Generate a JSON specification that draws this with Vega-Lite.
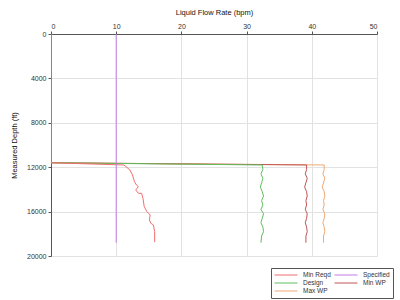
{
  "$schema": "https://vega.github.io/schema/vega-lite/v6.json",
  "autosize": "none",
  "width": 326,
  "height": 222,
  "padding": {"left": 51, "top": 34, "right": 23, "bottom": 44},
  "background": "white",
  "config": {
    "font": "Liberation Sans",
    "view": {"stroke": null},
    "axis": {
      "labelFontSize": 7,
      "labelColor": "#333",
      "titleFontSize": 7.5,
      "titleFontWeight": "normal",
      "titleColor": "#111",
      "gridColor": "#e2e2e2",
      "gridWidth": 1,
      "domainColor": "#555",
      "tickColor": "#555",
      "tickSize": 3
    }
  },
  "data": {
    "values": [
      {"series": "Max WP", "seq": 1, "rate": 0, "depth": 0},
      {"series": "Max WP", "seq": 2, "rate": 0, "depth": 11600},
      {"series": "Max WP", "seq": 3, "rate": 41.9, "depth": 11800},
      {"series": "Max WP", "seq": 4, "rate": 41.9, "depth": 12200},
      {"series": "Max WP", "seq": 5, "rate": 41.7, "depth": 12600},
      {"series": "Max WP", "seq": 6, "rate": 42.0, "depth": 13000},
      {"series": "Max WP", "seq": 7, "rate": 41.8, "depth": 13400},
      {"series": "Max WP", "seq": 8, "rate": 41.6, "depth": 13800},
      {"series": "Max WP", "seq": 9, "rate": 41.9, "depth": 14200},
      {"series": "Max WP", "seq": 10, "rate": 42.0, "depth": 14600},
      {"series": "Max WP", "seq": 11, "rate": 41.8, "depth": 15000},
      {"series": "Max WP", "seq": 12, "rate": 41.9, "depth": 15400},
      {"series": "Max WP", "seq": 13, "rate": 41.7, "depth": 15800},
      {"series": "Max WP", "seq": 14, "rate": 42.0, "depth": 16200},
      {"series": "Max WP", "seq": 15, "rate": 41.9, "depth": 16600},
      {"series": "Max WP", "seq": 16, "rate": 41.7, "depth": 17000},
      {"series": "Max WP", "seq": 17, "rate": 41.9, "depth": 17400},
      {"series": "Max WP", "seq": 18, "rate": 42.0, "depth": 17800},
      {"series": "Max WP", "seq": 19, "rate": 41.8, "depth": 18200},
      {"series": "Max WP", "seq": 20, "rate": 41.8, "depth": 18800},

      {"series": "Min WP", "seq": 1, "rate": 0, "depth": 11600},
      {"series": "Min WP", "seq": 2, "rate": 39.2, "depth": 11800},
      {"series": "Min WP", "seq": 3, "rate": 39.2, "depth": 12200},
      {"series": "Min WP", "seq": 4, "rate": 39.0, "depth": 12600},
      {"series": "Min WP", "seq": 5, "rate": 39.3, "depth": 13000},
      {"series": "Min WP", "seq": 6, "rate": 39.1, "depth": 13400},
      {"series": "Min WP", "seq": 7, "rate": 38.9, "depth": 13800},
      {"series": "Min WP", "seq": 8, "rate": 39.2, "depth": 14200},
      {"series": "Min WP", "seq": 9, "rate": 39.3, "depth": 14600},
      {"series": "Min WP", "seq": 10, "rate": 39.1, "depth": 15000},
      {"series": "Min WP", "seq": 11, "rate": 39.2, "depth": 15400},
      {"series": "Min WP", "seq": 12, "rate": 39.0, "depth": 15800},
      {"series": "Min WP", "seq": 13, "rate": 39.3, "depth": 16200},
      {"series": "Min WP", "seq": 14, "rate": 39.2, "depth": 16600},
      {"series": "Min WP", "seq": 15, "rate": 39.0, "depth": 17000},
      {"series": "Min WP", "seq": 16, "rate": 39.2, "depth": 17400},
      {"series": "Min WP", "seq": 17, "rate": 39.3, "depth": 17800},
      {"series": "Min WP", "seq": 18, "rate": 39.1, "depth": 18200},
      {"series": "Min WP", "seq": 19, "rate": 39.1, "depth": 18800},

      {"series": "Design", "seq": 1, "rate": 0, "depth": 11600},
      {"series": "Design", "seq": 2, "rate": 32.4, "depth": 11800},
      {"series": "Design", "seq": 3, "rate": 32.5, "depth": 12200},
      {"series": "Design", "seq": 4, "rate": 32.2, "depth": 12600},
      {"series": "Design", "seq": 5, "rate": 32.5, "depth": 13000},
      {"series": "Design", "seq": 6, "rate": 32.3, "depth": 13400},
      {"series": "Design", "seq": 7, "rate": 32.1, "depth": 13800},
      {"series": "Design", "seq": 8, "rate": 32.4, "depth": 14200},
      {"series": "Design", "seq": 9, "rate": 32.6, "depth": 14600},
      {"series": "Design", "seq": 10, "rate": 32.3, "depth": 15000},
      {"series": "Design", "seq": 11, "rate": 32.5, "depth": 15400},
      {"series": "Design", "seq": 12, "rate": 32.2, "depth": 15800},
      {"series": "Design", "seq": 13, "rate": 32.6, "depth": 16200},
      {"series": "Design", "seq": 14, "rate": 32.4, "depth": 16600},
      {"series": "Design", "seq": 15, "rate": 32.2, "depth": 17000},
      {"series": "Design", "seq": 16, "rate": 32.5, "depth": 17400},
      {"series": "Design", "seq": 17, "rate": 32.6, "depth": 17800},
      {"series": "Design", "seq": 18, "rate": 32.3, "depth": 18200},
      {"series": "Design", "seq": 19, "rate": 32.2, "depth": 18800},

      {"series": "Min Reqd", "seq": 1, "rate": 0, "depth": 11600},
      {"series": "Min Reqd", "seq": 2, "rate": 11.2, "depth": 11800},
      {"series": "Min Reqd", "seq": 3, "rate": 12.1, "depth": 12250},
      {"series": "Min Reqd", "seq": 4, "rate": 12.5, "depth": 12700},
      {"series": "Min Reqd", "seq": 5, "rate": 12.8, "depth": 13300},
      {"series": "Min Reqd", "seq": 6, "rate": 13.1, "depth": 13600},
      {"series": "Min Reqd", "seq": 7, "rate": 13.4, "depth": 13750},
      {"series": "Min Reqd", "seq": 8, "rate": 13.0, "depth": 14050},
      {"series": "Min Reqd", "seq": 9, "rate": 13.4, "depth": 14350},
      {"series": "Min Reqd", "seq": 10, "rate": 13.9, "depth": 14350},
      {"series": "Min Reqd", "seq": 11, "rate": 14.1, "depth": 14800},
      {"series": "Min Reqd", "seq": 12, "rate": 14.3, "depth": 15550},
      {"series": "Min Reqd", "seq": 13, "rate": 14.7, "depth": 16000},
      {"series": "Min Reqd", "seq": 14, "rate": 15.2, "depth": 16300},
      {"series": "Min Reqd", "seq": 15, "rate": 15.1, "depth": 16750},
      {"series": "Min Reqd", "seq": 16, "rate": 15.3, "depth": 17050},
      {"series": "Min Reqd", "seq": 17, "rate": 15.7, "depth": 17200},
      {"series": "Min Reqd", "seq": 18, "rate": 15.9, "depth": 17800},
      {"series": "Min Reqd", "seq": 19, "rate": 15.9, "depth": 18750},

      {"series": "Specified", "seq": 1, "rate": 10, "depth": 0},
      {"series": "Specified", "seq": 2, "rate": 10, "depth": 18800}
    ]
  },
  "mark": {"type": "line", "strokeWidth": 1, "clip": true},
  "encoding": {
    "x": {
      "field": "rate",
      "type": "quantitative",
      "scale": {"domain": [0, 50], "nice": false},
      "axis": {
        "orient": "top",
        "title": "Liquid Flow Rate  (bpm)",
        "values": [0, 10, 20, 30, 40, 50],
        "titlePadding": 6
      }
    },
    "y": {
      "field": "depth",
      "type": "quantitative",
      "scale": {"domain": [0, 20000], "reverse": true, "nice": false},
      "axis": {
        "title": "Measured Depth (ft)",
        "values": [0, 4000, 8000, 12000, 16000, 20000],
        "format": "d",
        "titlePadding": 8
      }
    },
    "color": {
      "field": "series",
      "type": "nominal",
      "scale": {
        "domain": ["Min Reqd", "Design", "Max WP", "Specified", "Min WP"],
        "range": ["#f26d6d", "#5fbf5f", "#f0a874", "#c27be6", "#c05454"]
      },
      "legend": {
        "title": null,
        "orient": "none",
        "direction": "vertical",
        "legendX": 220,
        "legendY": 234,
        "columns": 2,
        "columnPadding": 3,
        "rowPadding": 0,
        "padding": 3,
        "clipHeight": 8,
        "strokeColor": "#555",
        "fillColor": "white",
        "symbolType": "stroke",
        "symbolSize": 529,
        "symbolStrokeWidth": 1,
        "labelFontSize": 6.5,
        "labelOffset": 5,
        "labelColor": "#333",
        "labelLimit": 60
      }
    },
    "order": {"field": "seq", "type": "quantitative"}
  }
}
